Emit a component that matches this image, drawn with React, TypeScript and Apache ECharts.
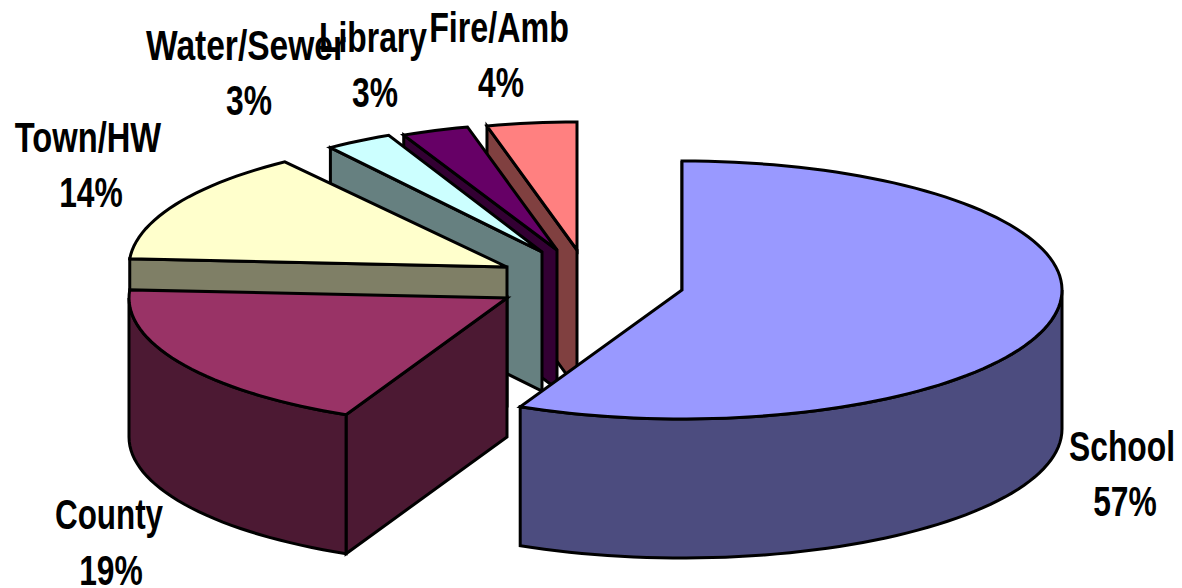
import React, { useEffect, useRef } from "react";
import * as echarts from "echarts";

const categories = ["School", "County", "Town/HW", "Water/Sewer", "Library", "Fire/Amb"];
const values = [57, 19, 14, 3, 3, 4];
const topColors = ["#9999FF", "#993366", "#FFFFCC", "#CCFFFF", "#660066", "#FF8080"];
const sideColors = ["#4C4C7F", "#4C1933", "#7F7F66", "#668080", "#330033", "#804040"];

// Layout of each exploded slice: apex position and ellipse radii
const apexX = [682, 507, 507, 542, 557, 577];
const apexY = [290, 298, 267, 252, 250, 250];
const radiusX = [380, 378, 378, 360, 360, 362];
const radiusY = [129, 129, 130, 129, 127, 128];
const depth = 139;
const labelX = [1122, 109, 88, 246, 373, 499];
const labelY = [446, 514, 137, 45, 37, 27];
const labelScale = [0.74, 0.73, 0.76, 0.78, 0.74, 0.75];
const percentX = [1125, 111, 91, 249, 375, 501];
const percentY = [501, 570, 192, 100, 92, 82];

const total = values.reduce((a, b) => a + b, 0);

function rimPoint(i: number, deg: number, dy = 0): number[] {
  const t = (deg * Math.PI) / 180;
  return [apexX[i] + radiusX[i] * Math.sin(t), apexY[i] - radiusY[i] * Math.cos(t) + dy];
}

function arc(i: number, a0: number, a1: number, dy = 0): number[][] {
  const n = Math.max(2, Math.ceil(Math.abs(a1 - a0) / 2));
  const pts: number[][] = [];
  for (let k = 0; k <= n; k++) pts.push(rimPoint(i, a0 + ((a1 - a0) * k) / n, dy));
  return pts;
}

const renderItem = (_params: any, api: any) => {
  const i = api.value(0) as number;
  const v = api.value(1) as number;
  let before = 0;
  for (let k = 0; k < i; k++) before += values[k];
  const a0 = (before / total) * 360;
  const a1 = ((before + v) / total) * 360;
  const stroke = { stroke: "#000", lineWidth: 3, lineJoin: "miter" as const };
  const children: any[] = [];
  const apex = [apexX[i], apexY[i]];
  const start = rimPoint(i, a0);

  // cut wall at the slice's leading edge
  children.push({
    type: "polygon",
    shape: {
      points: [apex, start, [start[0], start[1] + depth], [apex[0], apex[1] + depth]],
    },
    style: { fill: sideColors[i], ...stroke },
  });

  // outer rim, front half only
  const r0 = Math.max(a0, 90);
  const r1 = Math.min(a1, 270);
  if (r1 > r0) {
    children.push({
      type: "polygon",
      shape: { points: [...arc(i, r0, r1), ...arc(i, r1, r0, depth)] },
      style: { fill: sideColors[i], ...stroke },
    });
  }

  // top face
  children.push({
    type: "polygon",
    shape: { points: [apex, ...arc(i, a0, a1)] },
    style: { fill: topColors[i], ...stroke },
  });

  const font = {
    fontFamily: "Liberation Sans",
    fontWeight: "bold" as const,
    fontSize: 43,
    fill: "#000",
    align: "center" as const,
    verticalAlign: "middle" as const,
  };
  children.push({
    type: "text",
    z2: 100,
    x: labelX[i],
    y: labelY[i],
    scaleX: labelScale[i],
    style: { ...font, text: categories[i] },
  });
  children.push({
    type: "text",
    z2: 100,
    x: percentX[i],
    y: percentY[i],
    scaleX: 0.74,
    style: { ...font, text: `${v}%` },
  });
  return { type: "group", children };
};

// back slices are painted first
const drawOrder = categories.map((_, i) => i).reverse();

export default function App() {
  const ref = useRef<HTMLDivElement>(null);
  useEffect(() => {
    document.body.style.margin = "0";
    const chart = echarts.init(ref.current!, undefined, { renderer: "svg" });
    chart.setOption({
      animation: false,
      backgroundColor: "#fff",
      series: [
        {
          type: "custom",
          coordinateSystem: "none",
          renderItem,
          clip: false,
          data: drawOrder.map((i) => [i, values[i]]),
        },
      ],
    });
    return () => chart.dispose();
  }, []);
  return <div ref={ref} style={{ width: 1182, height: 588 }} />;
}
